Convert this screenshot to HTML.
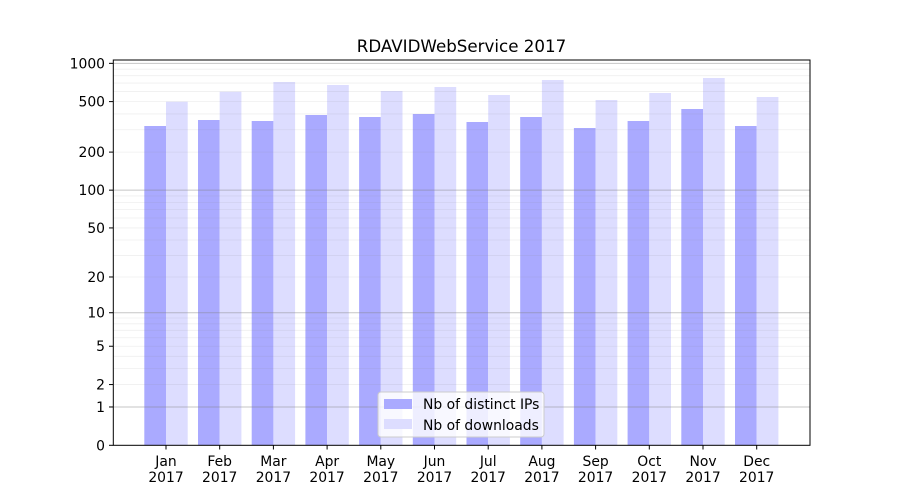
<!DOCTYPE html>
<html><head><meta charset="utf-8"><style>body{margin:0;background:#fff}svg{display:block}text{font-family:"DejaVu Sans","Liberation Sans",sans-serif;fill:#000}</style></head>
<body>
<svg width="900" height="500" viewBox="0 0 900 500" xmlns="http://www.w3.org/2000/svg">
<rect width="900" height="500" fill="#fff"/>
<g id="bars"></g>
<g id="grid"></g>
<rect x="113.3" y="60" width="696.7" height="385.3" fill="none" stroke="#000" stroke-width="1"/>
<g id="ticks" font-size="13.9"></g>
<text x="461.5" y="52" font-size="16.7" text-anchor="middle">RDAVIDWebService 2017</text>
<rect x="378" y="392" width="166" height="45" rx="3" fill="#fff" fill-opacity="0.8" stroke="#ccc"/>
<rect x="384" y="399" width="28" height="10" fill="#aaaaff"/>
<rect x="384" y="419" width="28" height="10" fill="#ddddff"/>
<text x="423" y="409" font-size="13.9">Nb of distinct IPs</text>
<text x="423" y="430" font-size="13.9">Nb of downloads</text>
<script>
var ns="http://www.w3.org/2000/svg";
function Y(v){return 445.3-127.3*Math.log10(v+1);}
function el(p,t,a,txt){var e=document.createElementNS(ns,t);for(var k in a)e.setAttribute(k,a[k]);if(txt)e.textContent=txt;document.getElementById(p).appendChild(e);}
for(var d=1;d<=100;d*=10)for(var m=2;m<=9;m++){var y=Y(m*d);el("grid","line",{x1:113.3,x2:810,y1:y,y2:y,stroke:"#808080","stroke-opacity":0.13,"stroke-width":0.8});}
[1,10,100,1000].forEach(function(v){var y=Y(v);el("grid","line",{x1:113.3,x2:810,y1:y,y2:y,stroke:"#808080","stroke-opacity":0.45,"stroke-width":1});});
var dark=[126,120,121,115,117,114,122,117,128,121,109,126];
var light=[101.7,91.7,82,85,91,87,95,80,100,93,78,97];
var mon=["Jan","Feb","Mar","Apr","May","Jun","Jul","Aug","Sep","Oct","Nov","Dec"];
for(var i=0;i<12;i++){var c=166+53.7*i;
el("bars","rect",{x:c-21.7,y:dark[i],width:21.7,height:445.3-dark[i],fill:"#aaaaff"});
el("bars","rect",{x:c,y:light[i],width:21.7,height:445.3-light[i],fill:"#ddddff"});
el("ticks","line",{x1:c,x2:c,y1:445.3,y2:449.5,stroke:"#000"});
el("ticks","text",{x:c,y:466,"text-anchor":"middle"},mon[i]);
el("ticks","text",{x:c,y:482,"text-anchor":"middle"},"2017");}
[0,1,2,5,10,20,50,100,200,500,1000].forEach(function(v){var y=Y(v);
el("ticks","line",{x1:109,x2:113.3,y1:y,y2:y,stroke:"#000"});
el("ticks","text",{x:105,y:y+5,"text-anchor":"end"},String(v));});
</script>
</svg>
</body></html>
